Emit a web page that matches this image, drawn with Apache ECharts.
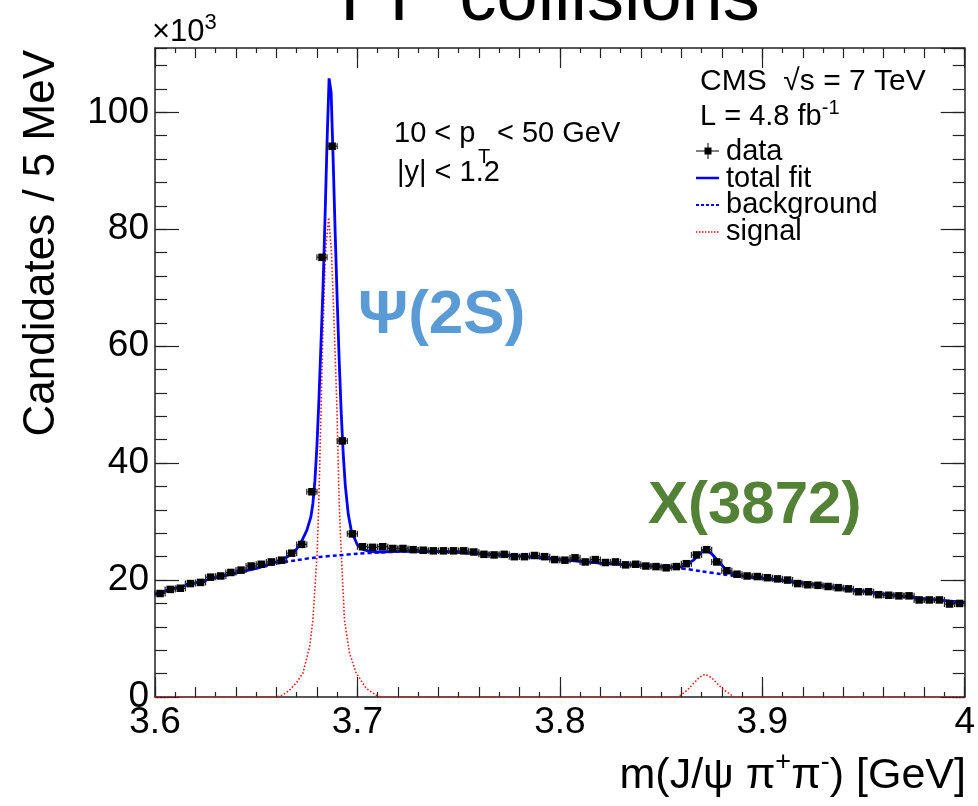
<!DOCTYPE html>
<html>
<head>
<meta charset="utf-8">
<script src="https://cdn.jsdelivr.net/npm/echarts@6/dist/echarts.min.js"></script>
<style>html,body{margin:0;padding:0;background:#fff}#c{width:978px;height:806px}</style>
</head>
<body>
<div id="c"></div>
<script>
// ---- data (values in units of 10^3 candidates / 5 MeV) ----
const binCenters = [
  3.6025,3.6075,3.6125,3.6175,3.6225,3.6275,3.6325,3.6375,3.6425,3.6475,
  3.6525,3.6575,3.6625,3.6675,3.6725,3.6775,3.6825,3.6875,3.6925,3.6975,
  3.7025,3.7075,3.7125,3.7175,3.7225,3.7275,3.7325,3.7375,3.7425,3.7475,
  3.7525,3.7575,3.7625,3.7675,3.7725,3.7775,3.7825,3.7875,3.7925,3.7975,
  3.8025,3.8075,3.8125,3.8175,3.8225,3.8275,3.8325,3.8375,3.8425,3.8475,
  3.8525,3.8575,3.8625,3.8675,3.8725,3.8775,3.8825,3.8875,3.8925,3.8975,
  3.9025,3.9075,3.9125,3.9175,3.9225,3.9275,3.9325,3.9375,3.9425,3.9475,
  3.9525,3.9575,3.9625,3.9675,3.9725,3.9775,3.9825,3.9875,3.9925,3.9975
];
const candidates = [
  17.7,18.4,18.6,19.4,19.6,20.5,20.7,21.3,21.7,22.4,
  22.7,23.1,23.4,24.6,26.1,35.1,75.2,94.2,43.8,27.9,
  25.7,25.6,25.7,25.4,25.4,25.2,25.1,25.0,25.0,25.0,
  25.0,24.8,24.4,24.3,24.4,24.0,24.0,24.2,24.0,23.5,
  23.4,23.8,23.1,23.5,23.0,23.1,22.6,22.7,22.4,22.3,
  22.1,22.3,22.8,24.3,25.2,23.1,21.6,21.0,20.7,20.6,
  20.4,20.2,20.0,19.4,19.2,19.1,18.9,18.7,18.5,18.0,
  18.0,17.5,17.4,17.3,17.3,16.6,16.6,16.6,15.9,16.0
];
const halfBin = 0.0025;

const fitMass = [
  3.600,3.610,3.620,3.630,3.640,3.650,3.655,3.660,3.665,3.668,
  3.670,3.6725,3.675,3.677,3.678,3.679,3.680,3.681,3.682,3.683,
  3.684,3.685,3.686,3.687,3.688,3.689,3.690,3.691,3.692,3.693,
  3.694,3.6955,3.697,3.700,3.703,3.706,3.710,3.720,3.730,3.740,
  3.750,3.760,3.770,3.780,3.790,3.800,3.810,3.820,3.830,3.840,
  3.850,3.855,3.860,3.863,3.866,3.869,3.872,3.875,3.878,3.881,
  3.884,3.887,3.890,3.900,3.910,3.920,3.930,3.940,3.950,3.960,
  3.970,3.980,3.990,4.000
];
const fitTotal = [
  17.6,18.6,19.5,20.4,21.2,22.0,22.5,23.1,23.9,24.6,
  25.3,26.7,28.5,30.8,33.1,37.0,43.0,51.0,60.5,70.0,
  82.0,95.0,105.8,103.5,92.0,79.5,68.0,57.5,48.5,41.5,
  36.2,31.2,28.4,26.0,25.2,24.9,24.8,24.9,24.95,24.9,
  24.75,24.5,24.3,24.1,23.8,23.5,23.2,22.9,22.7,22.5,
  22.3,22.2,22.3,22.7,23.4,24.5,25.2,24.5,23.3,22.2,
  21.3,20.9,20.7,20.3,19.9,19.5,19.0,18.5,18.1,17.6,
  17.2,16.8,16.5,16.2
];

const bkgMass = [
  3.600,3.610,3.620,3.630,3.640,3.650,3.660,3.670,3.680,3.690,
  3.700,3.710,3.720,3.730,3.740,3.750,3.760,3.770,3.780,3.790,
  3.800,3.810,3.820,3.830,3.840,3.850,3.860,3.870,3.880,3.890,
  3.900,3.910,3.920,3.930,3.940,3.950,3.960,3.970,3.980,3.990,4.000
];
const bkgFit = [
  17.6,18.6,19.5,20.4,21.2,22.0,22.8,23.4,23.9,24.2,
  24.5,24.7,24.85,24.9,24.85,24.7,24.5,24.3,24.1,23.8,
  23.5,23.2,22.9,22.7,22.5,22.3,22.0,21.5,21.0,20.6,
  20.3,19.9,19.5,19.0,18.5,18.1,17.6,17.2,16.8,16.5,16.2
];

const sigMass = [
  3.600,3.660,3.663,3.6665,3.670,3.6731,3.6764,3.678,3.6801,3.6809,
  3.6821,3.6829,3.6842,3.6858,3.6872,3.6887,3.6898,3.691,3.692,3.6936,
  3.6961,3.6994,3.7043,3.7092,3.712,3.858,3.860,3.863,3.866,3.869,
  3.8718,3.875,3.878,3.881,3.884,3.886,4.000
];
const sigFit = [
  0,0,0.3,1.2,2.5,4.1,8.6,13.2,24.6,33.1,
  50.2,61.6,76.0,82.0,76.0,61.6,50.2,33.1,24.6,13.2,
  7.5,4.1,1.5,0.3,0,0,0.4,1.2,2.3,3.4,
  3.9,3.3,2.2,1.2,0.5,0,0
];

const xRange = [3.6, 4.0];
const yRange = [0, 111];
const xTickLabels = ['3.6','3.7','3.8','3.9','4'];
const yTickLabels = ['0','20','40','60','80','100'];

// ---- chart ----
const FONT = '"Liberation Sans", Arial, Helvetica, sans-serif';
const axisCol = '#222';
const chart = echarts.init(document.getElementById('c'), null, {renderer:'canvas'});

function xAxisDef(pos, interval, len, withLine, withLabel, minor) {
  return {
    type:'value', min:xRange[0], max:xRange[1], interval:interval, position:pos,
    axisLine:{show:withLine, onZero:false, lineStyle:{color:axisCol, width:1.5}},
    axisTick:{show:true, inside:true, length:len, lineStyle:{color:axisCol, width:1.2}},
    minorTick:{show:!!minor, splitNumber:2, length:5, lineStyle:{color:axisCol, width:1.2}},
    axisLabel:{show:withLabel, fontSize:37, fontFamily:FONT, color:'#000', margin:7,
      formatter:(v)=>xTickLabels[Math.round((v - xRange[0]) / 0.1)] || ''},
    splitLine:{show:false}
  };
}
function yAxisDef(pos, interval, len, withLine, withLabel) {
  return {
    type:'value', min:yRange[0], max:yRange[1], interval:interval, position:pos,
    axisLine:{show:withLine, onZero:false, lineStyle:{color:axisCol, width:1.5}},
    axisTick:{show:true, inside:true, length:len, lineStyle:{color:axisCol, width:1.2}},
    axisLabel:{show:withLabel, fontSize:37, fontFamily:FONT, color:'#000', margin:6,
      showMaxLabel:false,
      formatter:(v)=>{ const k = Math.round(v/20); return (Math.abs(v-k*20)<1e-6 && yTickLabels[k]!==undefined) ? yTickLabels[k] : ''; }},
    splitLine:{show:false}
  };
}

const option = {
  animation:false,
  backgroundColor:'#fff',
  grid:{left:155, right:11, top:48, bottom:109, containLabel:false},
  xAxis:[
    xAxisDef('bottom', 0.1, 20, true, true, false),
    xAxisDef('bottom', 0.02, 10, false, false, true),
    xAxisDef('top', 0.1, 20, true, false, false),
    xAxisDef('top', 0.02, 10, false, false, true)
  ],
  yAxis:[
    yAxisDef('left', 20, 24, true, true),
    yAxisDef('left', 4, 12, false, false),
    yAxisDef('right', 20, 24, true, false),
    yAxisDef('right', 4, 12, false, false)
  ],
  series:[
    {type:'line', name:'signal', xAxisIndex:0, yAxisIndex:0, z:2,
     data:sigMass.map((m,i)=>[m, sigFit[i]]), symbol:'none', showSymbol:false,
     lineStyle:{color:'#ff1010', width:1.6, type:[1.5,2]}},
    {type:'line', name:'background', xAxisIndex:0, yAxisIndex:0, z:3,
     data:bkgMass.map((m,i)=>[m, bkgFit[i]]), symbol:'none', showSymbol:false, smooth:0.3,
     lineStyle:{color:'#0000ff', width:2.5, type:[4,3]}},
    {type:'line', name:'total fit', xAxisIndex:0, yAxisIndex:0, z:4,
     data:fitMass.map((m,i)=>[m, fitTotal[i]]), symbol:'none', showSymbol:false,
     lineStyle:{color:'#0000ff', width:2.8}},
    {type:'custom', name:'data', xAxisIndex:0, yAxisIndex:0, z:6,
     data:binCenters.map((m,i)=>[m, candidates[i]]),
     renderItem:function(params, api){
       const m = api.value(0), v = api.value(1);
       const p = api.coord([m, v]);
       const l = api.coord([m - halfBin, v]);
       const r = api.coord([m + halfBin, v]);
       const s = 7.5, cap = 3;
       const st = {stroke:'#222', lineWidth:1.2};
       return {type:'group', children:[
         {type:'line', shape:{x1:l[0], y1:p[1], x2:r[0], y2:p[1]}, style:st},
         {type:'line', shape:{x1:l[0], y1:p[1]-cap, x2:l[0], y2:p[1]+cap}, style:st},
         {type:'line', shape:{x1:r[0], y1:p[1]-cap, x2:r[0], y2:p[1]+cap}, style:st},
         {type:'rect', shape:{x:p[0]-s/2, y:p[1]-s/2, width:s, height:s}, style:{fill:'#000'}}
       ]};
     }}
  ],
  graphic:[
    // title (cut off at top)
    {type:'text', x:550, y:0, z:20, style:{text:'PP collisions', font:'74px ' + FONT, fill:'#000', align:'center', verticalAlign:'middle'}},
    // x10^3
    {type:'text', x:152, y:32, z:20, style:{text:'×10{sup|3}', font:'31px ' + FONT, fill:'#000', align:'left', verticalAlign:'middle',
      rich:{sup:{fontSize:22, fontFamily:FONT, verticalAlign:'top', lineHeight:40}}, lineHeight:40}},
    // y title
    {type:'text', x:42, y:50, rotation:Math.PI/2, z:20, style:{text:'Candidates / 5 MeV', font:'44px ' + FONT, fill:'#000', align:'right', verticalAlign:'middle'}},
    // x title
    {type:'text', x:966, y:776, z:20, style:{text:'m(J/ψ π{sup|+}π{sup|-}) [GeV]', font:'43px ' + FONT, fill:'#000', align:'right', verticalAlign:'middle',
      rich:{sup:{fontSize:27, fontFamily:FONT, verticalAlign:'top', lineHeight:54}}, lineHeight:54}},
    // kinematic range
    {type:'text', x:394, y:134, z:20, style:{text:'10 < p', font:'29px ' + FONT, fill:'#000', align:'left', verticalAlign:'middle'}},
    {type:'text', x:478, y:157, z:20, style:{text:'T', font:'20px ' + FONT, fill:'#000', align:'left', verticalAlign:'middle'}},
    {type:'text', x:497, y:134, z:20, style:{text:'< 50 GeV', font:'29px ' + FONT, fill:'#000', align:'left', verticalAlign:'middle'}},
    {type:'text', x:397, y:173, z:20, style:{text:'|y| < 1.2', font:'29px ' + FONT, fill:'#000', align:'left', verticalAlign:'middle'}},
    // CMS label
    {type:'text', x:700, y:82, z:20, style:{text:'CMS  √s = 7 TeV', font:'30px ' + FONT, fill:'#000', align:'left', verticalAlign:'middle'}},
    {type:'text', x:700, y:117, z:20, style:{text:'L = 4.8 fb{sup|-1}', font:'29px ' + FONT, fill:'#000', align:'left', verticalAlign:'middle',
      rich:{sup:{fontSize:20, fontFamily:FONT, verticalAlign:'top', lineHeight:38}}, lineHeight:38}},
    // legend
    {type:'line', z:20, shape:{x1:696, y1:151, x2:719, y2:151}, style:{stroke:'#000', lineWidth:1}},
    {type:'line', z:20, shape:{x1:708, y1:143, x2:708, y2:159}, style:{stroke:'#000', lineWidth:1}},
    {type:'rect', z:20, shape:{x:704.5, y:147.5, width:7, height:7}, style:{fill:'#000'}},
    {type:'line', z:20, shape:{x1:696, y1:178, x2:719, y2:178}, style:{stroke:'#0000ff', lineWidth:2.5}},
    {type:'line', z:20, shape:{x1:696, y1:205, x2:719, y2:205}, style:{stroke:'#0000ff', lineWidth:2, lineDash:[3,2]}},
    {type:'line', z:20, shape:{x1:696, y1:232, x2:719, y2:232}, style:{stroke:'#ff1010', lineWidth:1.5, lineDash:[1.5,1.5]}},
    {type:'text', x:726, y:152, z:20, style:{text:'data', font:'29px ' + FONT, fill:'#000', align:'left', verticalAlign:'middle'}},
    {type:'text', x:726, y:179, z:20, style:{text:'total fit', font:'29px ' + FONT, fill:'#000', align:'left', verticalAlign:'middle'}},
    {type:'text', x:726, y:205, z:20, style:{text:'background', font:'29px ' + FONT, fill:'#000', align:'left', verticalAlign:'middle'}},
    {type:'text', x:726, y:232, z:20, style:{text:'signal', font:'29px ' + FONT, fill:'#000', align:'left', verticalAlign:'middle'}},
    // peak annotations
    {type:'text', x:358, y:316, z:20, style:{text:'Ψ(2S)', font:'bold 62px ' + FONT, fill:'#5B9BD5', align:'left', verticalAlign:'middle'}},
    {type:'text', x:648, y:506, z:20, style:{text:'X(3872)', font:'bold 60px ' + FONT, fill:'#538135', align:'left', verticalAlign:'middle'}}
  ]
};
chart.setOption(option);
</script>
</body>
</html>
